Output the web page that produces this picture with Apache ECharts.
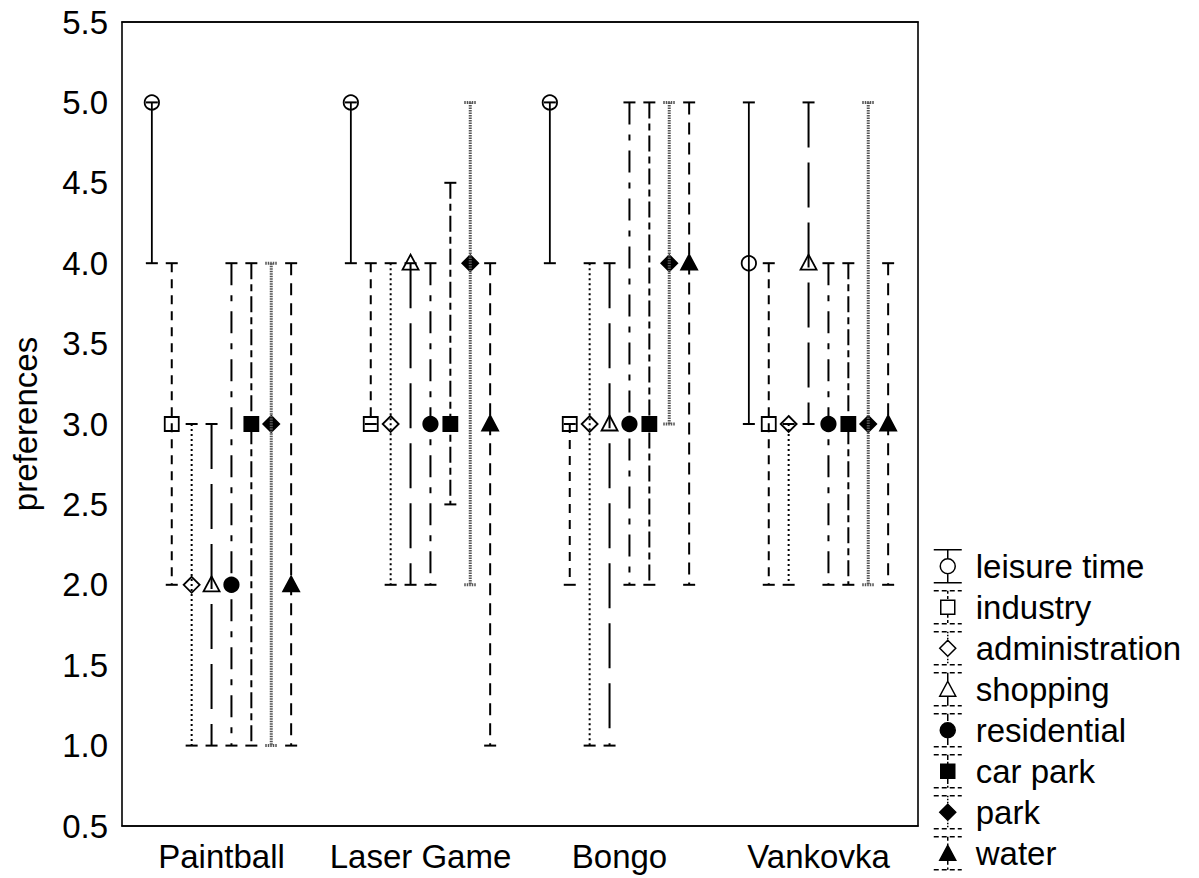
<!DOCTYPE html>
<html><head><meta charset="utf-8">
<script src="https://cdn.jsdelivr.net/npm/echarts@6/dist/echarts.min.js"></script>
<style>html,body{margin:0;padding:0;background:#fff}#chart{width:1199px;height:878px}</style>
</head><body><div id="chart"></div>
<script>
// ---- data ----
const categories = ['Paintball', 'Laser Game', 'Bongo', 'Vankovka'];
const yMin = 0.5, yMax = 5.5, yStep = 0.5;
// each entry per category: [median, low, high]
const leisureTime    = [[5, 4, 5], [5, 4, 5],     [5, 4, 5], [4, 3, 5]];
const industry       = [[3, 2, 4], [3, 3, 4],     [3, 2, 3], [3, 2, 4]];
const administration = [[2, 1, 3], [3, 2, 4],     [3, 1, 4], [3, 2, 3]];
const shopping       = [[2, 1, 3], [4, 2, 4],     [3, 1, 4], [4, 3, 5]];
const residential    = [[2, 1, 4], [3, 2, 4],     [3, 2, 5], [3, 2, 4]];
const carPark        = [[3, 1, 4], [3, 2.5, 4.5], [3, 2, 5], [3, 2, 4]];
const park           = [[3, 1, 4], [4, 2, 5],     [4, 3, 5], [3, 2, 5]];
const water          = [[2, 1, 4], [3, 1, 4],     [4, 2, 5], [3, 2, 4]];
const seriesNames = ['leisure time', 'industry', 'administration', 'shopping', 'residential', 'car park', 'park', 'water'];
const seriesValues = [leisureTime, industry, administration, shopping, residential, carPark, park, water];

// ---- styles ----
const FONT = 'Liberation Sans, Arial, sans-serif';
const FS = 33;
const styles = [
  { marker: 'circle',   fill: '#fff', dash: null,           color: '#000', width: 1.8 },
  { marker: 'square',   fill: '#fff', dash: [9, 7],         color: '#000', width: 2 },
  { marker: 'diamond',  fill: '#fff', dash: [2, 3],         color: '#000', width: 2 },
  { marker: 'triangle', fill: '#fff', dash: [45, 15],       color: '#000', width: 2 },
  { marker: 'circle',   fill: '#000', dash: [22, 10, 6, 10],color: '#000', width: 2 },
  { marker: 'square',   fill: '#000', dash: [16, 5, 7, 5],  color: '#000', width: 2 },
  { marker: 'diamond',  fill: '#000', dash: [1.5, 1],       color: '#555', width: 3 },
  { marker: 'triangle', fill: '#000', dash: [12, 8],        color: '#000', width: 2 }
];

function markerEl(type, x, y, fill) {
  const st = { fill: fill, stroke: '#000', lineWidth: 1.8 };
  if (type === 'circle') return { type: 'circle', shape: { cx: x, cy: y, r: 7.2 }, style: st };
  if (type === 'square') return { type: 'rect', shape: { x: x - 7, y: y - 7, width: 14, height: 14 }, style: st };
  if (type === 'diamond') return { type: 'polygon', shape: { points: [[x, y - 8], [x + 8, y], [x, y + 8], [x - 8, y]] }, style: st };
  return { type: 'polygon', shape: { points: [[x, y - 8.5], [x + 8, y + 6.5], [x - 8, y + 6.5]] }, style: st };
}

function makeRender(si) {
  const s = styles[si];
  return function (params, api) {
    const c = api.value(0);
    const pMid = api.coord([c, api.value(1)]);
    const pLo = api.coord([c, api.value(2)]);
    const pHi = api.coord([c, api.value(3)]);
    const band = api.size([1, 0])[0];
    const x = pMid[0] + (si - 3.5) * band * 0.1;
    const capHalf = 6;
    const lineStyle = { stroke: s.color, lineWidth: s.width, lineDash: s.dash || null };
    const capStyle = { stroke: s.color, lineWidth: si === 6 ? 3 : 2, lineDash: si === 6 ? [1.5, 1] : null };
    return {
      type: 'group',
      children: [
        markerEl(s.marker, x, pMid[1], s.fill),
        { type: 'line', shape: { x1: x, y1: pHi[1], x2: x, y2: pLo[1] }, style: lineStyle },
        { type: 'line', shape: { x1: x - capHalf, y1: pHi[1], x2: x + capHalf, y2: pHi[1] }, style: capStyle },
        { type: 'line', shape: { x1: x - capHalf, y1: pLo[1], x2: x + capHalf, y2: pLo[1] }, style: capStyle }
      ]
    };
  };
}

// ---- legend icons (path in a 28 x 34 box) ----
function segs(x1, y1, x2, y2, dash) {
  if (!dash) return `M${x1} ${y1}L${x2} ${y2}`;
  let out = '';
  const len = Math.hypot(x2 - x1, y2 - y1);
  const ux = (x2 - x1) / len, uy = (y2 - y1) / len;
  let t = 0, k = 0;
  while (t < len) {
    const d = dash[k % dash.length];
    if (k % 2 === 0) {
      const e = Math.min(len, t + d);
      out += `M${(x1 + ux * t).toFixed(2)} ${(y1 + uy * t).toFixed(2)}L${(x1 + ux * e).toFixed(2)} ${(y1 + uy * e).toFixed(2)}`;
    }
    t += d; k++;
  }
  return out;
}
function legendIcon(si) {
  const s = styles[si];
  const W = 28, H = 34, cx = 14, cy = 17;
  const ld = s.dash ? s.dash.map(v => Math.max(1.5, v / 3)) : null;
  let p = '';
  p += segs(0, 0.5, W, 0.5, ld ? [5, 3] : null);
  p += segs(0, H - 0.5, W, H - 0.5, ld ? [5, 3] : null);
  const r = 7.5;
  p += segs(cx, 0.5, cx, cy - r, ld);
  p += segs(cx, cy + r, cx, H - 0.5, ld);
  if (s.marker === 'circle') p += `M${cx + r} ${cy}A${r} ${r} 0 1 1 ${cx - r} ${cy}A${r} ${r} 0 1 1 ${cx + r} ${cy}Z`;
  else if (s.marker === 'square') p += `M${cx - 7} ${cy - 7}L${cx + 7} ${cy - 7}L${cx + 7} ${cy + 7}L${cx - 7} ${cy + 7}Z`;
  else if (s.marker === 'diamond') p += `M${cx} ${cy - 8}L${cx + 8} ${cy}L${cx} ${cy + 8}L${cx - 8} ${cy}Z`;
  else p += `M${cx} ${cy - 8}L${cx + 8} ${cy + 7}L${cx - 8} ${cy + 7}Z`;
  return 'path://' + p;
}

const series = seriesNames.map((name, si) => ({
  name: name,
  type: 'custom',
  renderItem: makeRender(si),
  encode: { x: 0, y: [1, 2, 3] },
  clip: false,
  silent: true,
  data: seriesValues[si].map((v, ci) => [ci, v[0], v[1], v[2]])
}));

const axisCommon = {
  axisLine: { lineStyle: { color: '#000', width: 1.6 } },
  splitLine: { show: false }
};

const option = {
  backgroundColor: '#fff',
  animation: false,
  grid: { left: 122, right: 281, top: 22, bottom: 52, show: true, borderColor: '#000', borderWidth: 1.6, backgroundColor: 'transparent' },
  xAxis: [
    Object.assign({
      type: 'category', data: categories, boundaryGap: true, position: 'bottom',
      axisTick: { inside: true, alignWithLabel: true, length: 5, lineStyle: { color: '#000', width: 2 } },
      axisLabel: { color: '#000', fontSize: FS, fontFamily: FONT, margin: 14, interval: 0, hideOverlap: false }
    }, axisCommon),
    Object.assign({
      type: 'category', data: categories, boundaryGap: true, position: 'top',
      axisTick: { inside: true, alignWithLabel: true, length: 5, interval: 0, lineStyle: { color: '#000', width: 2 } },
      axisLabel: { show: false, interval: 0 }
    }, axisCommon)
  ],
  yAxis: [
    Object.assign({
      type: 'value', min: yMin, max: yMax, interval: yStep, position: 'left',
      axisTick: { inside: true, length: 5, lineStyle: { color: '#000', width: 1.6 } },
      axisLabel: { color: '#000', fontSize: FS, fontFamily: FONT, margin: 14, formatter: v => v.toFixed(1) },
      name: 'preferences', nameLocation: 'middle', nameGap: 80,
      nameTextStyle: { color: '#000', fontSize: FS, fontFamily: FONT }
    }, axisCommon),
    Object.assign({
      type: 'value', min: yMin, max: yMax, interval: yStep, position: 'right',
      axisTick: { inside: true, length: 5, lineStyle: { color: '#000', width: 1.6 } },
      axisLabel: { show: false }
    }, axisCommon)
  ],
  legend: {
    orient: 'vertical',
    left: 933, top: 549,
    padding: 0,
    itemWidth: 28, itemHeight: 34, itemGap: 6.5,
    selectedMode: false,
    textStyle: { color: '#000', fontSize: FS, fontFamily: FONT, padding: [0, 0, 0, 9] },
    data: seriesNames.map((name, si) => ({
      name: name,
      icon: legendIcon(si),
      itemStyle: { color: styles[si].fill, borderColor: '#000', borderWidth: 1.5 }
    }))
  },
  series: series
};

const chart = echarts.init(document.getElementById('chart'), null, { renderer: 'svg' });
chart.setOption(option);
</script>
</body></html>
